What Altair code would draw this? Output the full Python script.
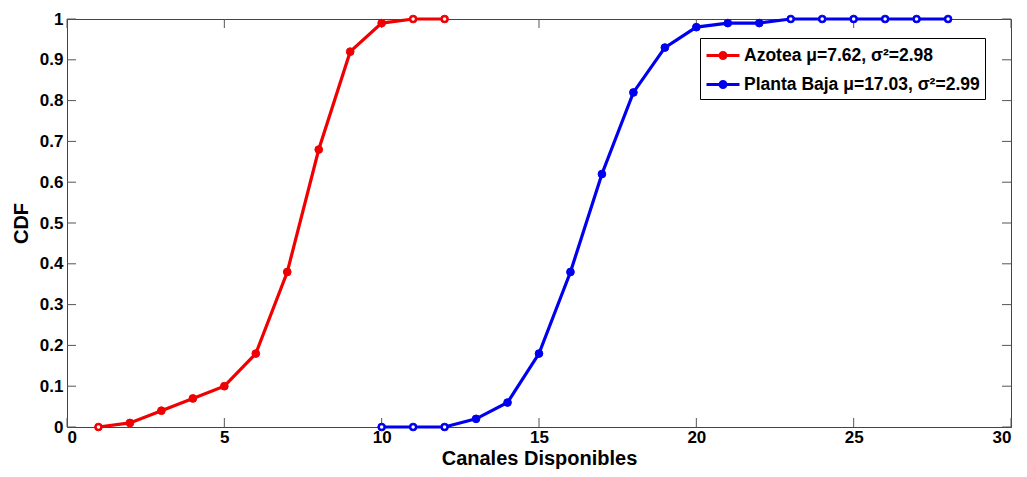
import altair as alt
import pandas as pd

# ---- data ----
azotea_x = [1, 2, 3, 4, 5, 6, 7, 8, 9, 10, 11, 12]
azotea_cdf = [0.0, 0.01, 0.04, 0.07, 0.10, 0.18, 0.38, 0.68, 0.92, 0.99, 1.0, 1.0]
planta_x = [10, 11, 12, 13, 14, 15, 16, 17, 18, 19, 20, 21, 22, 23, 24, 25, 26, 27, 28]
planta_cdf = [0.0, 0.0, 0.0, 0.02, 0.06, 0.18, 0.38, 0.62, 0.82, 0.93, 0.98, 0.99, 0.99,
              1.0, 1.0, 1.0, 1.0, 1.0, 1.0]
series_names = ["Azotea μ=7.62, σ²=2.98", "Planta Baja μ=17.03, σ²=2.99"]
series_colors = ["#f00000", "#0000f0"]
x_ticks = [0, 5, 10, 15, 20, 25, 30]
y_ticks = [0, 0.1, 0.2, 0.3, 0.4, 0.5, 0.6, 0.7, 0.8, 0.9, 1]

df = pd.concat([
    pd.DataFrame({"x": azotea_x, "cdf": azotea_cdf, "series": series_names[0]}),
    pd.DataFrame({"x": planta_x, "cdf": planta_cdf, "series": series_names[1]}),
], ignore_index=True)
xt = pd.DataFrame({"x": x_ticks})
yt = pd.DataFrame({"cdf": y_ticks})

W, H = 944, 408
TL = 9
FONT = "Liberation Sans"

xscale = alt.Scale(domain=[0, 30], nice=False, zero=False)
yscale = alt.Scale(domain=[0, 1], nice=False)
cscale = alt.Scale(domain=series_names, range=series_colors)

xaxis = alt.Axis(values=x_ticks, title="Canales Disponibles", labelPadding=2,
                 titleY=37.5, titleBaseline="alphabetic")
yaxis = alt.Axis(values=y_ticks, format="~g", title="CDF", labelPadding=4, titlePadding=8)
xenc = alt.X("x:Q", scale=xscale, axis=xaxis)
yenc = alt.Y("cdf:Q", scale=yscale, axis=yaxis)

sym_path = "M-1,0L2,0M0.23,0A0.27,0.27,0,1,1,0.77,0A0.27,0.27,0,1,1,0.23,0Z"
legend = alt.Legend(title=None, orient="none", legendX=633, legendY=19,
                    symbolType=sym_path, symbolSize=484, symbolStrokeWidth=3,
                    labelFont=FONT, labelFontSize=17.5, labelFontWeight="bold",
                    labelColor="black", labelLimit=500, labelOffset=14,
                    strokeColor="black", fillColor="white", padding=5, rowPadding=7)

base = alt.Chart(df)

lines = base.mark_line(strokeWidth=3.2).encode(
    x=xenc, y=yenc,
    stroke=alt.Stroke("series:N", scale=cscale, legend=legend),
)
points = base.mark_point(filled=True, size=60, opacity=1, strokeWidth=1).encode(
    x=xenc, y=yenc,
    fill=alt.Fill("series:N", scale=cscale, legend=legend),
    stroke=alt.Stroke("series:N", scale=cscale, legend=legend),
)
holes = base.transform_filter("datum.cdf == 0 || datum.cdf == 1").mark_circle(
    size=12, color="white", opacity=1).encode(x=xenc, y=yenc)

tick_b = alt.Chart(xt).mark_rule(color="#555").encode(x=xenc, y=alt.value(H), y2=alt.value(H - TL))
tick_t = alt.Chart(xt).mark_rule(color="#555").encode(x=xenc, y=alt.value(0), y2=alt.value(TL))
tick_l = alt.Chart(yt).mark_rule(color="#555").encode(y=yenc, x=alt.value(0), x2=alt.value(TL))
tick_r = alt.Chart(yt).mark_rule(color="#555").encode(y=yenc, x=alt.value(W - TL), x2=alt.value(W))

chart = alt.layer(tick_b, tick_t, tick_l, tick_r, lines, points, holes).properties(
    width=W, height=H,
    autosize=alt.AutoSizeParams(type="none"),
    padding={"left": 59, "top": 11, "right": 8, "bottom": 42},
).configure_view(
    stroke="#444", strokeWidth=1
).configure_axis(
    domainColor="#444", tickSize=0, grid=False,
    labelFont=FONT, labelFontSize=17, labelFontWeight="bold", labelColor="black",
    titleFont=FONT, titleFontSize=20, titleFontWeight="bold", titleColor="black",
)

chart.save("out.html", embed_options={"renderer": "svg", "actions": False})
